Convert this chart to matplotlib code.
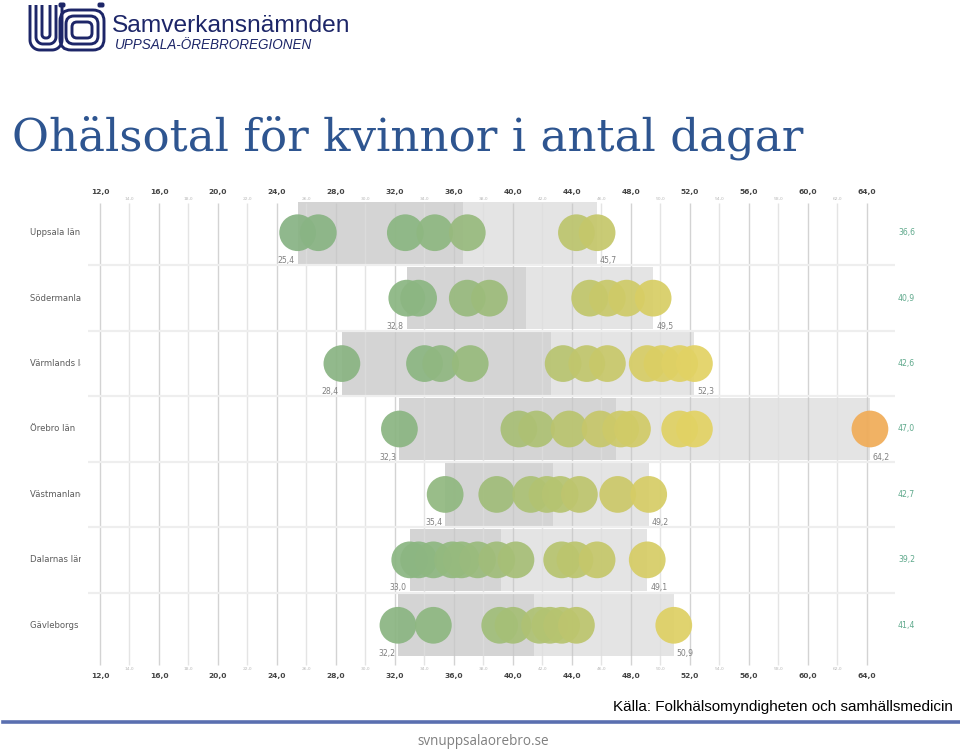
import numpy as np
import matplotlib
matplotlib.use("Agg")
import matplotlib.pyplot as plt
from matplotlib.colors import LinearSegmentedColormap, Normalize
from matplotlib.transforms import Affine2D, Bbox
from matplotlib.lines import Line2D
from matplotlib.patches import FancyBboxPatch, Rectangle

# ---------------- data ----------------
counties = ["Uppsala län", "Södermanlands län", "Värmlands län", "Örebro län",
            "Västmanlands län", "Dalarnas län", "Gävleborgs län"]
county_avg = [36.6, 40.9, 42.6, 47.0, 42.7, 39.2, 41.4]

uppsala = [25.4, 26.8, 32.7, 34.7, 36.9, 44.3, 45.7]
sodermanland = [32.8, 33.6, 36.9, 38.4, 45.2, 46.4, 47.7, 49.5]
varmland = [28.4, 34.0, 35.1, 37.1, 43.4, 45.0, 46.4, 49.1, 50.1, 51.3, 52.3]
orebro = [32.3, 40.4, 41.6, 43.8, 45.9, 47.3, 48.1, 51.3, 52.3, 64.2]
vastmanland = [35.4, 38.9, 41.2, 42.3, 43.2, 44.5, 47.1, 49.2]
dalarna = [33.0, 33.6, 34.6, 35.9, 36.5, 37.6, 38.9, 40.2, 43.3, 44.2, 45.7, 49.1]
gavleborg = [32.2, 34.6, 39.1, 40.0, 41.8, 42.5, 43.3, 44.3, 50.9]

municipalities = [uppsala, sodermanland, varmland, orebro, vastmanland, dalarna, gavleborg]

major_ticks = [12, 16, 20, 24, 28, 32, 36, 40, 44, 48, 52, 56, 60, 64]
minor_ticks = [14, 18, 22, 26, 30, 34, 38, 42, 46, 50, 54, 58, 62]

title = "Ohälsotal för kvinnor i antal dagar"
source = "Källa: Folkhälsomyndigheten och samhällsmedicin"
url = "svnuppsalaorebro.se"

# ---------------- styles ----------------
W, H = 960, 750
fig = plt.figure(figsize=(W / 100, H / 100), dpi=100)
fig.patch.set_facecolor("white")

def fx(x):
    return x / W

def fy(y):
    return 1 - y / H

# pixel (from top-left) -> figure transform
pix = Affine2D().scale(1 / W, -1 / H).translate(0, 1) + fig.transFigure

fmt = lambda v: f"{v:.1f}".replace(".", ",")

cmap = LinearSegmentedColormap.from_list(
    "ohals",
    [(0.0, "#88b384"), (0.23, "#8cb682"), (0.33, "#9cbc7c"), (0.43, "#b0c273"),
     (0.54, "#c8c86a"), (0.64, "#dccf64"), (0.72, "#e6d464"), (0.84, "#ebc460"),
     (1.0, "#f0ab58")])
norm = Normalize(vmin=25.0, vmax=64.5)

# ---------------- axes ----------------
ax_left, ax_right, ax_top, ax_bot = 88, 895, 200, 658
ax = fig.add_axes([fx(ax_left), fy(ax_bot), (ax_right - ax_left) / W, (ax_bot - ax_top) / H])
xmin = 12 + (ax_left - 100) / 14.75
xmax = 12 + (ax_right - 100) / 14.75
ax.set_xlim(xmin, xmax)
ax.set_ylim(6.5, -0.5)
ax.axis("off")

# boxes
for i, vals in enumerate(municipalities):
    lo, hi, avg = min(vals), max(vals), county_avg[i]
    ax.add_patch(Rectangle((lo, i - 0.475), avg - lo, 0.95, facecolor="#d4d4d4",
                           edgecolor="none", zorder=1))
    ax.add_patch(Rectangle((avg, i - 0.475), hi - avg, 0.95, facecolor="#e4e4e4",
                           edgecolor="none", zorder=1))

# gridlines
ax.vlines(major_ticks, -0.46, 6.6, colors="#c8c8c8", lw=1.0, alpha=0.8, zorder=2, clip_on=False)
ax.vlines(minor_ticks, -0.46, 6.6, colors="#dedede", lw=1.0, alpha=0.8, zorder=2, clip_on=False)

# row separators
ax.hlines([i + 0.5 for i in range(len(counties) - 1)], xmin, xmax, colors="#eeeeee",
          lw=1.6, zorder=2.5)

# circles
for i, vals in enumerate(municipalities):
    ax.scatter(vals, [i] * len(vals), s=700, c=vals, cmap=cmap, norm=norm,
               edgecolors="none", alpha=0.93, zorder=3)
    lo, hi = min(vals), max(vals)
    ax.text(lo - 0.2, i + 0.43, fmt(lo), ha="right", va="center", fontsize=5.6,
            color="#808080", zorder=4)
    ax.text(hi + 0.2, i + 0.43, fmt(hi), ha="left", va="center", fontsize=5.6,
            color="#808080", zorder=4)
    ax.text(12 + (898 - 100) / 14.75, i, fmt(county_avg[i]), ha="left", va="center",
            fontsize=5.6, color="#5fa98c", clip_on=False)

# tick labels top & bottom
xt = ax.get_xaxis_transform()
for v in major_ticks:
    for yy in (1.0175, -0.040):
        ax.text(v, yy, fmt(v), transform=xt, ha="center", va="center", fontsize=5.4,
                fontweight="bold", color="#444444", clip_on=False)
for v in minor_ticks:
    for yy in (1.003, -0.025):
        ax.text(v, yy, fmt(v), transform=xt, ha="center", va="center", fontsize=3.2,
                color="#b8b8b8", clip_on=False)

# row labels (clipped like the original)
clip = Bbox([[0, 0], [81, H]])
for i, name in enumerate(counties):
    t = ax.text(12 + (30 - 100) / 14.75, i, name, ha="left", va="center", fontsize=6.1,
                color="#5c5c5c", clip_on=True)
    t.set_clip_box(clip)

# ---------------- header ----------------
renderer = fig.canvas.get_renderer()

def fit(t, target_w):
    bb = t.get_window_extent(renderer)
    t.set_fontsize(t.get_fontsize() * target_w / bb.width)

navy = "#1d2668"
t1 = fig.text(fx(112), fy(32), "Samverkansnämnden", fontsize=18, color=navy,
              family="Liberation Sans", ha="left", va="baseline")
fit(t1, 238)
t2 = fig.text(fx(115), fy(49), "UPPSALA-ÖREBROREGIONEN", fontsize=10, color=navy,
              family="Liberation Sans", style="italic", ha="left", va="baseline")
fit(t2, 197)

# logo (simplified line drawing)
def u_shape(x0, x1, ytop, ybot, r, n=20):
    xs, ys = [x0], [ytop]
    a = np.linspace(np.pi, np.pi / 2, n)
    xs += list(x0 + r + r * np.cos(a)); ys += list(ybot - r + r * np.sin(a))
    a = np.linspace(np.pi / 2, 0, n)
    xs += list(x1 - r + r * np.cos(a)); ys += list(ybot - r + r * np.sin(a))
    xs.append(x1); ys.append(ytop)
    return xs, ys

for (x0, x1, yb, r) in [(30, 62, 50, 10), (36, 56, 44, 7), (42, 50, 38, 3.5)]:
    xs, ys = u_shape(x0, x1, 5, yb, r)
    fig.add_artist(Line2D(xs, ys, transform=pix, color=navy, lw=2.1, solid_capstyle="butt"))
for (x0, y0, w, h, r) in [(60, 10, 44, 40, 11), (66, 16, 32, 28, 8), (72, 22, 20, 16, 5)]:
    fig.add_artist(FancyBboxPatch((x0, y0), w, h, transform=pix,
                                  boxstyle=f"round,pad=0,rounding_size={r}",
                                  facecolor="none", edgecolor=navy, lw=2.1))
for (cx, cy) in [(62, 5), (101, 5)]:
    fig.add_artist(FancyBboxPatch((cx - 3.5, cy - 2.5), 7, 5, transform=pix,
                                  boxstyle="round,pad=0,rounding_size=2",
                                  facecolor=navy, edgecolor="none"))

tt = fig.text(fx(12), fy(150), title, fontsize=32, color="#2e5590",
              family="DejaVu Serif", ha="left", va="baseline")
fit(tt, 793)

# ---------------- footer ----------------
ts = fig.text(fx(953), fy(711), source, fontsize=12, color="black",
              family=["Liberation Sans Narrow", "Liberation Sans"], ha="right", va="baseline")
fit(ts, 342)
fig.add_artist(Line2D([3, 960], [722, 722], transform=pix, color="#5a6fb0", lw=2.6))
tu = fig.text(fx(483), fy(745), url, fontsize=11, color="#808080",
              family="Open Sans", ha="center", va="baseline")
fit(tu, 132)

fig.savefig("out.png", dpi=100, facecolor="white")
